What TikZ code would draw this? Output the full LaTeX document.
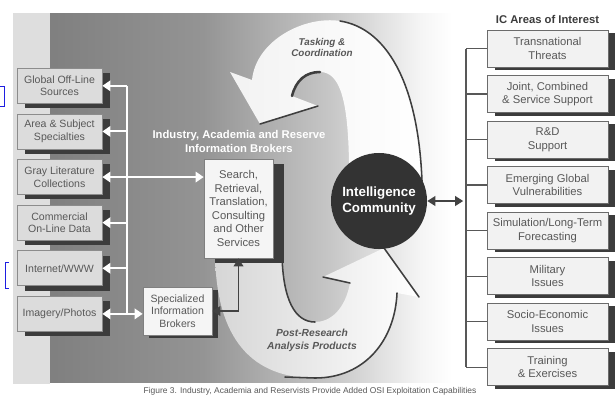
\documentclass[tikz,border=0pt]{standalone}
\usepackage{fontspec}
\setmainfont{Liberation Sans}
\usetikzlibrary{arrows.meta,positioning,shadows}
\definecolor{ink}{RGB}{88,88,88}
\definecolor{shade}{RGB}{60,60,60}
\definecolor{boxgray}{RGB}{220,220,220}
\definecolor{linkblue}{RGB}{30,30,225}
\pgfdeclarehorizontalshading{panelshade}{100bp}{color(0bp)=(black!50); color(25bp)=(black!50); color(44bp)=(black!42); color(60bp)=(black!22); color(71bp)=(black!4); color(75bp)=(white); color(100bp)=(white)}

\begin{document}
\begin{tikzpicture}[x=0.025cm,y=-0.025cm,
 card/.style={align=center,text=ink,line width=.5pt,inner sep=1pt},
 src/.style={card,draw=black!45,fill=boxgray,minimum width=2.125cm,minimum height=.875cm,font=\fontsize{7.5}{9}\selectfont,drop shadow={shadow xshift=.2cm,shadow yshift=-.12cm,fill=shade,opacity=1}},
 area/.style={card,draw=black!58,fill=black!5,minimum width=3.025cm,minimum height=.925cm,font=\fontsize{8}{9.6}\selectfont,drop shadow={shadow xshift=.2cm,shadow yshift=-.08cm,fill=shade,opacity=1}},
 svc/.style={card,draw=black!50,fill=black!4,minimum width=1.725cm},
 lab/.style={align=center,text=ink,font=\bfseries\itshape\fontsize{7}{7.8}\selectfont},
 edge/.style={draw=ink!70!black,line width=1.1pt,line cap=round},
 warr/.style={draw=white,line width=1.4pt,-{Triangle[length=2mm,width=2.6mm]}},
 darr/.style={draw=ink!75!black,line width=1.3pt,{Triangle[length=2mm,width=2.4mm]}-{Triangle[length=2mm,width=2.4mm]}},
 rline/.style={draw=ink,line width=.8pt}]
\useasboundingbox (0,0) rectangle (615,397);
\fill[white] (0,0) rectangle (615,397);
\fill[black!13] (13,13) rectangle (50,384);
\shade[shading=panelshade] (50,13) rectangle (452,382);
\draw[linkblue,line width=.6pt] (0,86) -- (4,86) -- (4,106) -- (0,106);
\draw[linkblue,line width=.6pt] (9,262) -- (5,262) -- (5,288) -- (9,288);

% tasking arrow
\shade[left color=black!5,right color=white]
 (422,181) .. controls (418,80) and (385,28) .. (340,21)
 .. controls (305,15.5) and (256,40) .. (252,80)
 -- (230,72) -- (260,124) -- (318,106) -- (292,96)
 .. controls (296,80) and (306,72) .. (320,72)
 .. controls (340,72) and (348,100) .. (349,163) -- cycle;
\draw[edge] (422,181) .. controls (418,80) and (385,28) .. (340,21);
\draw[edge] (260,124) -- (318,106);
\draw[edge,line width=1.8pt] (292,96) .. controls (296,80) and (306,72) .. (320,72);
% post-research arrow
\shade[left color=black!16,right color=white]
 (215,250) .. controls (215,330) and (245,378) .. (315,378)
 .. controls (365,378) and (395,340) .. (397,293)
 -- (419,297) -- (384,248) -- (323,277) -- (350,283)
 .. controls (345,310) and (330,322) .. (315,322)
 .. controls (295,322) and (283,300) .. (282,250) -- cycle;
\draw[edge] (315,322) .. controls (295,322) and (283,300) .. (282,255);
\draw[edge] (397,293) .. controls (395,340) and (365,378) .. (315,378) -- (285,377);
\draw[edge] (384,248) -- (419,297);
\draw[edge] (323,277) -- (350,283);

\node[lab] (task) at (322,47) {Tasking \&\\Coordination};
\node[lab,font=\bfseries\itshape\fontsize{7.3}{9.2}\selectfont] (post) at (312,340.5) {Post-Research\\Analysis Products};

% sources
\node[src] (l1) at (59.5,85.8) {Global Off-Line\\Sources};
\node[src,below=.2475cm of l1] (l2) {Area \& Subject\\Specialties};
\node[src,below=.2475cm of l2] (l3) {Gray Literature\\Collections};
\node[src,below=.2475cm of l3] (l4) {Commercial\\On-Line Data};
\node[src,below=.2475cm of l4] (l5) {Internet/WWW};
\node[src,below=.2475cm of l5] (l6) {Imagery/Photos};

% brokers
\node[align=center,text=white,font=\bfseries\fontsize{8}{9.6}\selectfont] (brokers) at (239,141.5) {Industry, Academia and Reserve\\Information Brokers};
\node[svc,minimum height=2.475cm,font=\fontsize{8}{9.6}\selectfont,drop shadow={shadow xshift=.27cm,shadow yshift=-.12cm,fill=shade,opacity=1}] (search) at (238.5,208.5) {Search,\\Retrieval,\\Translation,\\Consulting\\and Other\\Services};
\node[svc,minimum height=1.2cm,font=\fontsize{7.5}{9}\selectfont,drop shadow={shadow xshift=.16cm,shadow yshift=-.08cm,fill=shade,opacity=1}] (spec) at (177.5,311) {Specialized\\Information\\Brokers};

\node[circle,fill=shade!85!black,minimum size=2.4cm,inner sep=0pt,align=center,text=white,font=\bfseries\fontsize{9.5}{11.3}\selectfont] (ic) at (379,201) {Intelligence\\Community};

% areas of interest
\node[font=\bfseries\fontsize{8}{9.6}\selectfont,text=shade] (title) at (547.5,19) {IC Areas of Interest};
\node[area] (r1) at (547.5,48.5) {Transnational\\Threats};
\node[area,below=.195cm of r1] (r2) {Joint, Combined\\\& Service Support};
\node[area,below=.195cm of r2] (r3) {R\&D\\Support};
\node[area,below=.195cm of r3] (r4) {Emerging Global\\Vulnerabilities};
\node[area,below=.195cm of r4] (r5) {Simulation/Long-Term\\Forecasting};
\node[area,below=.195cm of r5] (r6) {Military\\Issues};
\node[area,below=.195cm of r6] (r7) {Socio-Economic\\Issues};
\node[area,below=.195cm of r7] (r8) {Training\\\& Exercises};

% connectors
\coordinate (bus) at (127,0);
\coordinate (rbus) at (466,0);
\draw[white,line width=1.4pt] (bus |- l1.east) -- (bus |- l6.east);
\foreach \i in {1,...,6} \draw[warr] (bus |- l\i.east) -- (l\i.east);
\draw[warr] (bus |- l3.east) -- (search.west |- l3.east);
\draw[warr] (bus |- l6.east) -- (spec.west |- l6.east);
\draw[darr] (search.south) |- (spec.east);
\draw[rline] (rbus |- r1.west) -- (rbus |- r8.west);
\foreach \i in {1,...,8} \draw[rline] (rbus |- r\i.west) -- (r\i.west);
\draw[darr,shorten >=.07cm] (ic.east) -- (rbus |- ic.east);

\node[font=\fontsize{6}{7}\selectfont,text=ink] (cap) at (310,391) {Figure 3. Industry, Academia and Reservists Provide Added OSI Exploitation Capabilities};
\end{tikzpicture}
\end{document}
